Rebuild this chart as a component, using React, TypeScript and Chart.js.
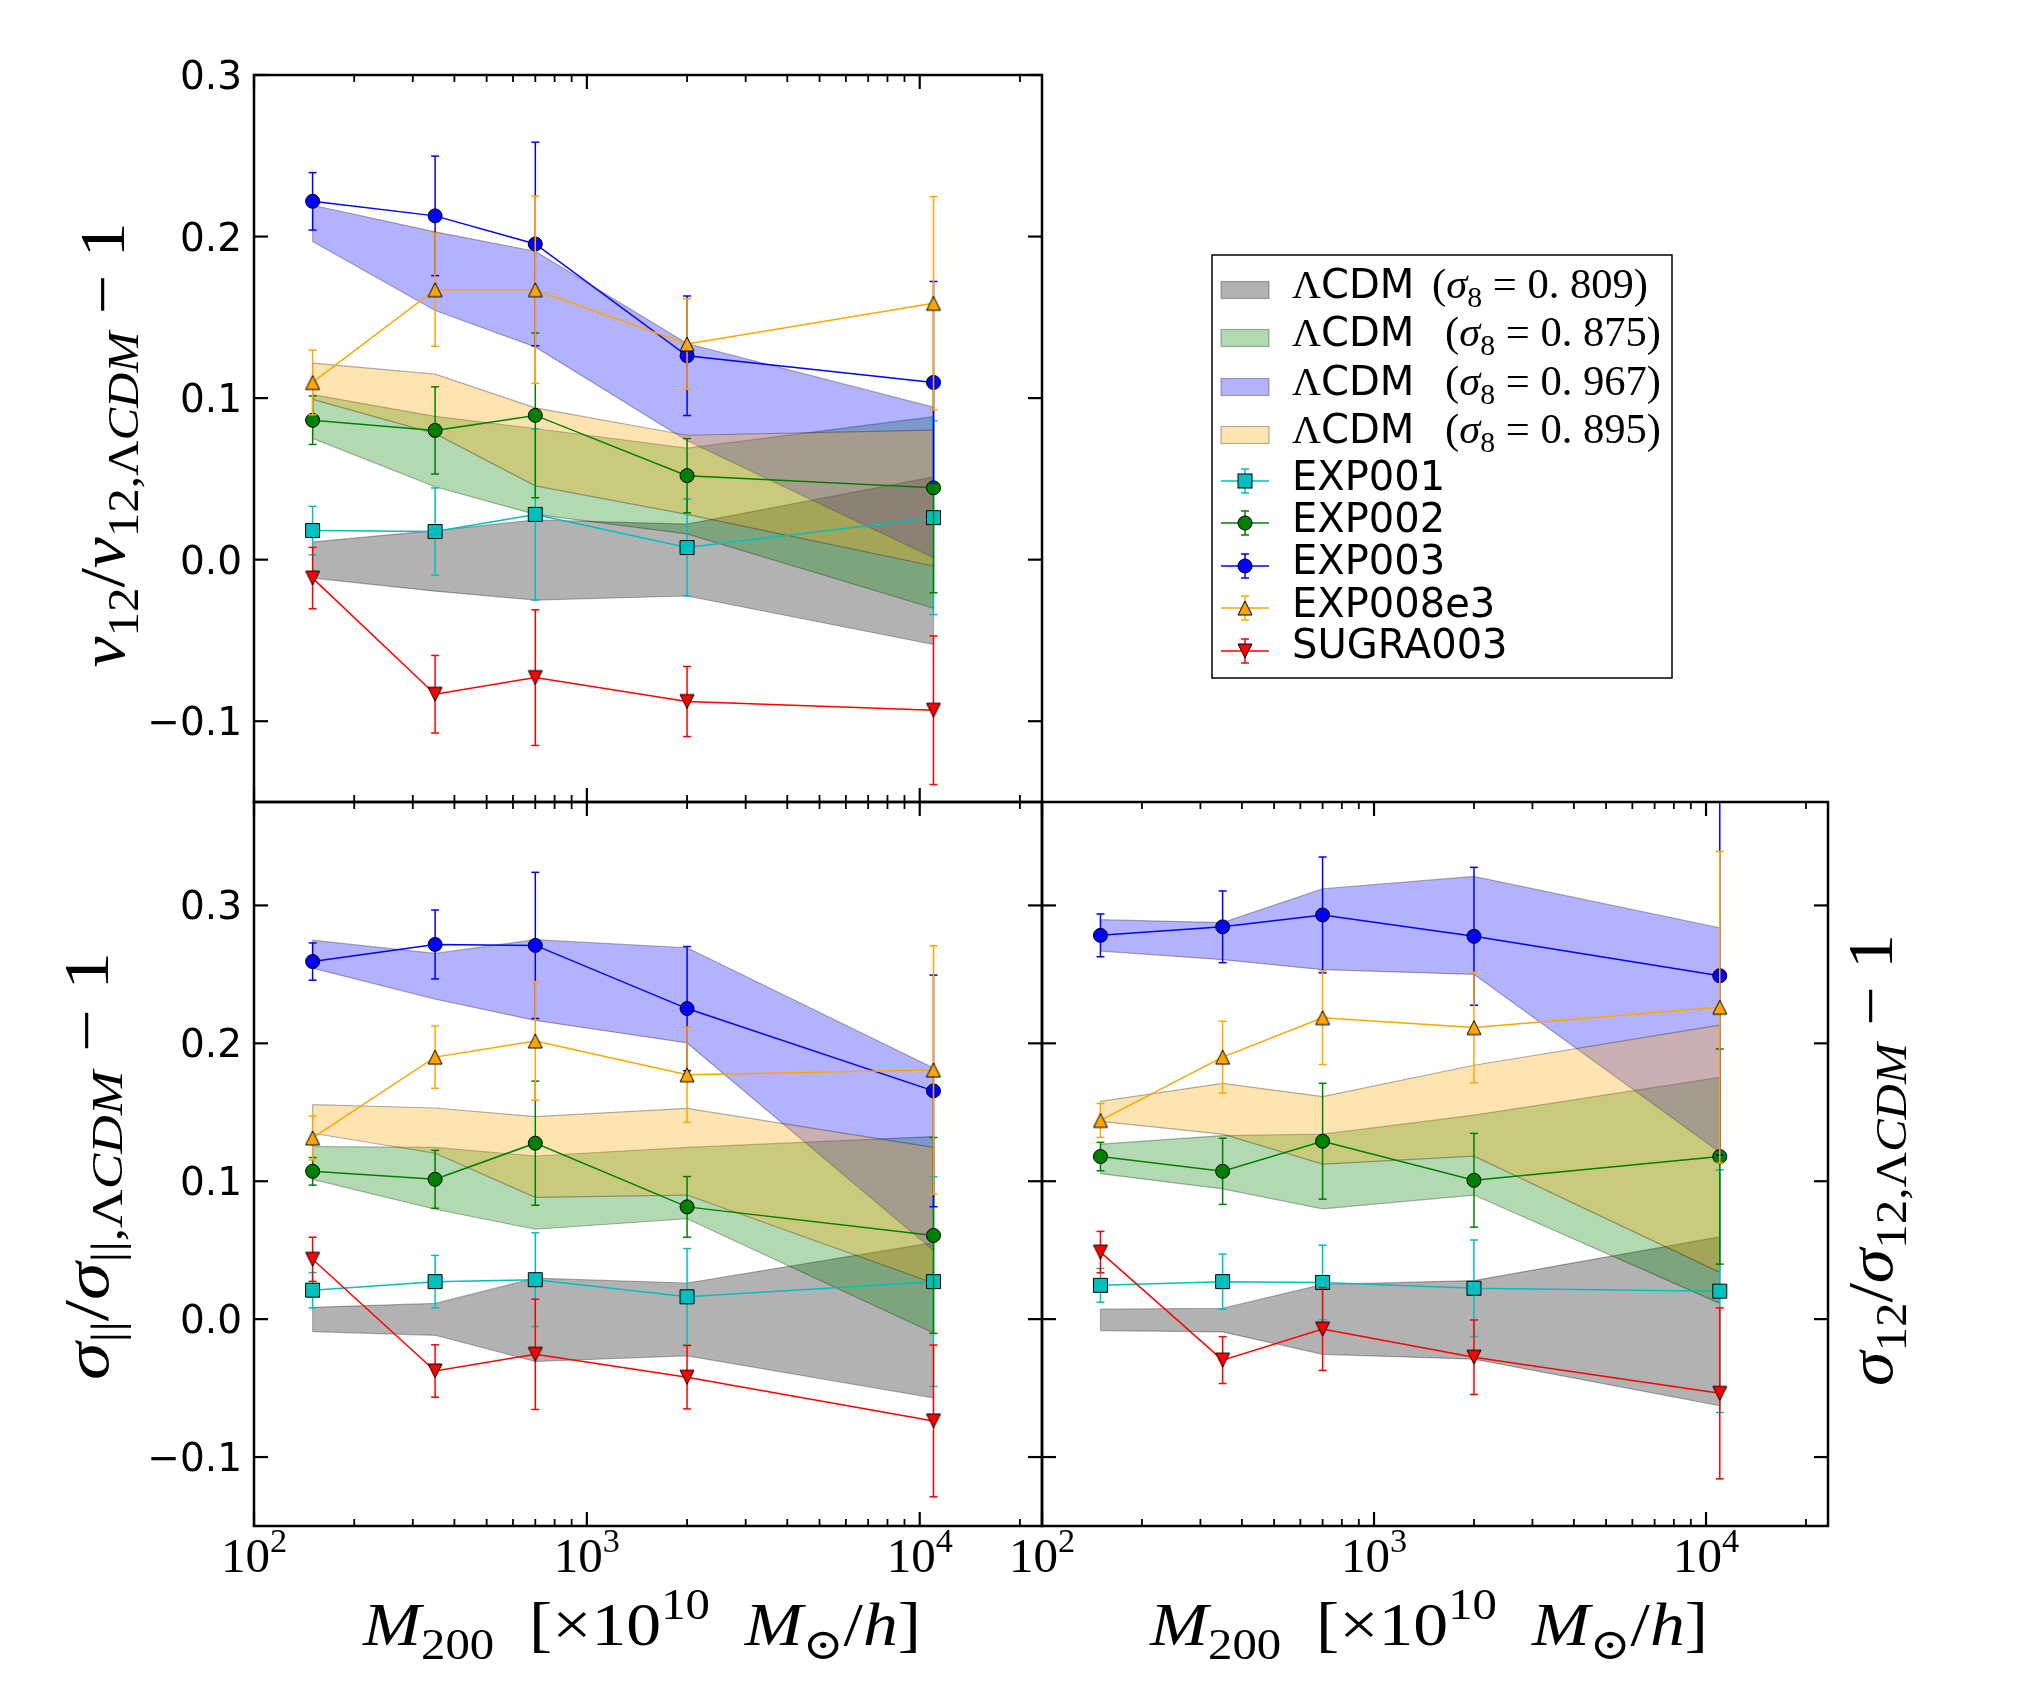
import React, { useEffect, useRef } from 'react';
import { Chart, registerables } from 'chart.js';

Chart.register(...registerables);

const W = 2028;
const H = 1698;
const SANS = "'DejaVu Sans', 'Liberation Sans', sans-serif";
const SERIF = "'Liberation Serif', 'DejaVu Serif', serif";

// ---------------- data ----------------
const massBins = [150, 350, 700, 2000, 11000];
const xMin = 100;
const xMax = 23300;
const xMajorTicks = [100, 1000, 10000];
const xMajorExponents = ['2', '3', '4'];
const yTicks = [-0.1, 0.0, 0.1, 0.2, 0.3];
const yTickLabels = ['\u22120.1', '0.0', '0.1', '0.2', '0.3'];

const seriesNames = ['EXP001', 'EXP002', 'EXP003', 'EXP008e3', 'SUGRA003'];
const seriesColors = ['#00bfbf', '#008000', '#0000ff', '#ffa500', '#ff0000'];
const seriesMarkers = ['rect', 'circle', 'circle', 'triUp', 'triDown'];
const bandSigma8 = ['0. 809', '0. 875', '0. 967', '0. 895'];
const bandFills = ['rgba(0,0,0,0.3)', 'rgba(0,128,0,0.3)', 'rgba(0,0,255,0.3)', 'rgba(255,165,0,0.3)'];
const EDGE = 'rgba(0,0,0,0.3)';

// v12 panel (top-left)
const v12Lcdm809Lo = [-0.0114, -0.0195, -0.025, -0.0225, -0.0525];
const v12Lcdm809Hi = [0.011, 0.018, 0.0246, 0.022, 0.0513];
const v12Lcdm875Lo = [0.0751, 0.0451, 0.028, 0.016, -0.0301];
const v12Lcdm875Hi = [0.1022, 0.0887, 0.0812, 0.069, 0.0885];
const v12Lcdm967Lo = [0.1969, 0.1542, 0.1317, 0.0736, 0.0012];
const v12Lcdm967Hi = [0.2194, 0.2029, 0.1909, 0.1338, 0.0944];
const v12Lcdm895Lo = [0.0992, 0.078, 0.0457, 0.028, -0.0039];
const v12Lcdm895Hi = [0.1217, 0.1148, 0.094, 0.077, 0.0802];
const v12Exp001 = [0.018, 0.0174, 0.028, 0.0075, 0.026];
const v12Exp001Err = [0.015, 0.027, 0.053, 0.03, 0.06];
const v12Exp002 = [0.0863, 0.08, 0.0893, 0.052, 0.0445];
const v12Exp002Err = [0.015, 0.027, 0.051, 0.023, 0.065];
const v12Exp003 = [0.2218, 0.2128, 0.1954, 0.1262, 0.1097];
const v12Exp003Err = [0.0178, 0.037, 0.063, 0.037, 0.0625];
const v12Exp008e3 = [0.1097, 0.1671, 0.1671, 0.1335, 0.1587];
const v12Exp008e3Err = [0.02, 0.035, 0.058, 0.028, 0.066];
const v12Sugra003 = [-0.0114, -0.0833, -0.073, -0.0878, -0.0932];
const v12Sugra003Err = [0.019, 0.024, 0.042, 0.0217, 0.046];

// sigma_parallel panel (bottom-left)
const spLcdm809Lo = [-0.009, -0.0117, -0.0307, -0.0266, -0.0572];
const spLcdm809Hi = [0.0086, 0.0114, 0.0297, 0.0262, 0.0555];
const spLcdm875Lo = [0.1014, 0.0797, 0.0652, 0.0728, -0.01];
const spLcdm875Hi = [0.1252, 0.1245, 0.1183, 0.1245, 0.1324];
const spLcdm967Lo = [0.2545, 0.2321, 0.2166, 0.2003, 0.0497];
const spLcdm967Hi = [0.2748, 0.2652, 0.2752, 0.2693, 0.1821];
const spLcdm895Lo = [0.1348, 0.1203, 0.0883, 0.09, 0.0262];
const spLcdm895Hi = [0.1555, 0.1531, 0.1469, 0.1528, 0.1245];
const spExp001 = [0.021, 0.0272, 0.0286, 0.0162, 0.0272];
const spExp001Err = [0.0128, 0.019, 0.034, 0.035, 0.076];
const spExp002 = [0.1072, 0.1014, 0.1276, 0.0814, 0.0607];
const spExp002Err = [0.01, 0.021, 0.045, 0.022, 0.071];
const spExp003 = [0.2593, 0.2717, 0.271, 0.2252, 0.1655];
const spExp003Err = [0.0135, 0.025, 0.053, 0.045, 0.084];
const spExp008e3 = [0.1314, 0.19, 0.2017, 0.1772, 0.1807];
const spExp008e3Err = [0.016, 0.0226, 0.043, 0.0345, 0.09];
const spSugra003 = [0.0434, -0.0376, -0.0255, -0.0421, -0.0738];
const spSugra003Err = [0.016, 0.019, 0.04, 0.023, 0.055];

// sigma_12 panel (bottom-right)
const s12Lcdm809Lo = [-0.0083, -0.0093, -0.0255, -0.029, -0.0628];
const s12Lcdm809Hi = [0.0072, 0.0079, 0.0252, 0.028, 0.0597];
const s12Lcdm875Lo = [0.1055, 0.0945, 0.08, 0.09, 0.0114];
const s12Lcdm875Hi = [0.1269, 0.1331, 0.1341, 0.148, 0.1753];
const s12Lcdm967Lo = [0.2669, 0.2607, 0.2534, 0.25, 0.1211];
const s12Lcdm967Hi = [0.2897, 0.2876, 0.3121, 0.321, 0.2838];
const s12Lcdm895Lo = [0.1434, 0.1341, 0.1124, 0.1182, 0.0339];
const s12Lcdm895Hi = [0.1579, 0.171, 0.1614, 0.1841, 0.2132];
const s12Exp001 = [0.0245, 0.0272, 0.0266, 0.0224, 0.0203];
const s12Exp001Err = [0.0122, 0.02, 0.027, 0.035, 0.088];
const s12Exp002 = [0.1179, 0.1072, 0.129, 0.1007, 0.1179];
const s12Exp002Err = [0.0103, 0.024, 0.042, 0.034, 0.078];
const s12Exp003 = [0.2783, 0.2845, 0.2931, 0.2776, 0.249];
const s12Exp003Err = [0.0155, 0.026, 0.042, 0.05, 0.13];
const s12Exp008e3 = [0.1441, 0.19, 0.2186, 0.2114, 0.2262];
const s12Exp008e3Err = [0.0123, 0.026, 0.034, 0.04, 0.113];
const s12Sugra003 = [0.0486, -0.0297, -0.0072, -0.0276, -0.0538];
const s12Sugra003Err = [0.015, 0.017, 0.03, 0.027, 0.062];

// ---------------- helpers ----------------
type Seg = { t: string; it?: boolean; s?: number; dy?: number; sans?: boolean };

function segFont(sg: Seg, base: number) {
  return `${sg.it ? 'italic ' : ''}${(base * (sg.s ?? 1)).toFixed(1)}px ${sg.sans ? SANS : SERIF}`;
}

function drawRich(
  ctx: CanvasRenderingContext2D,
  segs: Seg[],
  x: number,
  y: number,
  base: number,
  opt: { align?: 'left' | 'center'; rot?: number; width?: number } = {}
) {
  ctx.save();
  const ws = segs.map((sg) => {
    ctx.font = segFont(sg, base);
    return ctx.measureText(sg.t).width;
  });
  const total = ws.reduce((a, b) => a + b, 0);
  ctx.translate(x, y);
  if (opt.rot) ctx.rotate(opt.rot);
  if (opt.width) ctx.scale(opt.width / total, 1);
  let cx = opt.align === 'center' ? -total / 2 : 0;
  ctx.fillStyle = '#000';
  ctx.textAlign = 'left';
  ctx.textBaseline = 'alphabetic';
  segs.forEach((sg, i) => {
    ctx.font = segFont(sg, base);
    ctx.fillText(sg.t, cx, (sg.dy ?? 0) * base);
    cx += ws[i];
  });
  ctx.restore();
}

function makeTri(color: string, down: boolean) {
  const c = document.createElement('canvas');
  c.width = 20;
  c.height = 20;
  const g = c.getContext('2d')!;
  g.beginPath();
  if (down) {
    g.moveTo(10, 17);
    g.lineTo(3, 3);
    g.lineTo(17, 3);
  } else {
    g.moveTo(10, 3);
    g.lineTo(3, 17);
    g.lineTo(17, 17);
  }
  g.closePath();
  g.fillStyle = color;
  g.fill();
  g.lineWidth = 1;
  g.strokeStyle = '#000';
  g.stroke();
  return c;
}

function line(ctx: CanvasRenderingContext2D, x1: number, y1: number, x2: number, y2: number) {
  ctx.beginPath();
  ctx.moveTo(x1, y1);
  ctx.lineTo(x2, y2);
  ctx.stroke();
}

const SUB = 0.22;
const SUP = -0.42;

const xLabelSegs: Seg[] = [
  { t: 'M', it: true },
  { t: '200', s: 0.7, dy: SUB },
  { t: '  [' },
  { t: '\u00d7' },
  { t: '10' },
  { t: '10', s: 0.7, dy: SUP },
  { t: '  ' },
  { t: 'M', it: true },
  { t: '\u2299', s: 0.7, dy: SUB },
  { t: '/' },
  { t: 'h', it: true },
  { t: ']' },
];

function yLabelSegs(sym: string, sub: string): Seg[] {
  return [
    { t: sym, it: true },
    { t: sub, s: 0.7, dy: SUB },
    { t: '/' },
    { t: sym, it: true },
    { t: sub + ',', s: 0.7, dy: SUB },
    { t: '\u039b', s: 0.7, dy: SUB },
    { t: 'CDM', it: true, s: 0.7, dy: SUB },
    { t: ' \u2212 1' },
  ];
}

interface Panel {
  key: 'v12' | 'spar' | 's12';
  area: [number, number, number, number];
  yMin: number;
  yMax: number;
  bandsLo: number[][];
  bandsHi: number[][];
  vals: number[][];
  errs: number[][];
  yTickText: boolean;
  xTickText: boolean;
}

const panels: Panel[] = [
  {
    key: 'v12',
    area: [254, 75, 1042, 802],
    yMin: -0.15,
    yMax: 0.3,
    bandsLo: [v12Lcdm809Lo, v12Lcdm875Lo, v12Lcdm967Lo, v12Lcdm895Lo],
    bandsHi: [v12Lcdm809Hi, v12Lcdm875Hi, v12Lcdm967Hi, v12Lcdm895Hi],
    vals: [v12Exp001, v12Exp002, v12Exp003, v12Exp008e3, v12Sugra003],
    errs: [v12Exp001Err, v12Exp002Err, v12Exp003Err, v12Exp008e3Err, v12Sugra003Err],
    yTickText: true,
    xTickText: false,
  },
  {
    key: 'spar',
    area: [254, 802, 1042, 1526],
    yMin: -0.15,
    yMax: 0.375,
    bandsLo: [spLcdm809Lo, spLcdm875Lo, spLcdm967Lo, spLcdm895Lo],
    bandsHi: [spLcdm809Hi, spLcdm875Hi, spLcdm967Hi, spLcdm895Hi],
    vals: [spExp001, spExp002, spExp003, spExp008e3, spSugra003],
    errs: [spExp001Err, spExp002Err, spExp003Err, spExp008e3Err, spSugra003Err],
    yTickText: true,
    xTickText: true,
  },
  {
    key: 's12',
    area: [1042, 802, 1828, 1526],
    yMin: -0.15,
    yMax: 0.375,
    bandsLo: [s12Lcdm809Lo, s12Lcdm875Lo, s12Lcdm967Lo, s12Lcdm895Lo],
    bandsHi: [s12Lcdm809Hi, s12Lcdm875Hi, s12Lcdm967Hi, s12Lcdm895Hi],
    vals: [s12Exp001, s12Exp002, s12Exp003, s12Exp008e3, s12Sugra003],
    errs: [s12Exp001Err, s12Exp002Err, s12Exp003Err, s12Exp008e3Err, s12Sugra003Err],
    yTickText: false,
    xTickText: true,
  },
];

type Tris = { up: HTMLCanvasElement; down: HTMLCanvasElement };

function drawMarker(ctx: CanvasRenderingContext2D, kind: string, color: string, x: number, y: number, tris: Tris) {
  ctx.save();
  ctx.fillStyle = color;
  ctx.strokeStyle = '#000';
  ctx.lineWidth = 1;
  if (kind === 'rect') {
    ctx.fillRect(x - 7, y - 7, 14, 14);
    ctx.strokeRect(x - 7, y - 7, 14, 14);
  } else if (kind === 'circle') {
    ctx.beginPath();
    ctx.arc(x, y, 7, 0, Math.PI * 2);
    ctx.fill();
    ctx.stroke();
  } else {
    const img = kind === 'triUp' ? tris.up : tris.down;
    ctx.drawImage(img, x - 10, y - 10);
  }
  ctx.restore();
}

function drawLegend(ctx: CanvasRenderingContext2D, tris: Tris) {
  ctx.save();
  ctx.fillStyle = '#fff';
  ctx.fillRect(1212, 255, 460, 423);
  ctx.strokeStyle = '#000';
  ctx.lineWidth = 1.5;
  ctx.strokeRect(1212, 255, 460, 423);
  const bandMid = [290, 338, 387, 435];
  const bandBase = [298, 346, 395, 443];
  const mathX = [1432, 1445, 1445, 1445];
  bandFills.forEach((f, i) => {
    ctx.fillStyle = f;
    ctx.fillRect(1221, bandMid[i] - 8.5, 48, 17);
    ctx.strokeStyle = EDGE;
    ctx.lineWidth = 1.2;
    ctx.strokeRect(1221, bandMid[i] - 8.5, 48, 17);
    drawRich(ctx, [{ t: '\u039b' }, { t: 'CDM', sans: true }], 1292, bandBase[i], 40);
    drawRich(
      ctx,
      [
        { t: '(' },
        { t: '\u03c3', it: true },
        { t: '8', s: 0.7, dy: SUB },
        { t: ' = ' },
        { t: bandSigma8[i] },
        { t: ')' },
      ],
      mathX[i],
      bandBase[i],
      42,
      { width: 216 }
    );
  });
  const serMid = [481, 523, 566, 608, 651];
  const serBase = [490, 532, 574, 617, 658];
  seriesNames.forEach((name, i) => {
    const y = serMid[i];
    ctx.strokeStyle = seriesColors[i];
    ctx.lineWidth = 1.5;
    line(ctx, 1221, y, 1269, y);
    line(ctx, 1245, y - 12, 1245, y + 12);
    line(ctx, 1241, y - 12, 1249, y - 12);
    line(ctx, 1241, y + 12, 1249, y + 12);
    drawMarker(ctx, seriesMarkers[i], seriesColors[i], 1245, y, tris);
    ctx.fillStyle = '#000';
    ctx.font = `40px ${SANS}`;
    ctx.textAlign = 'left';
    ctx.textBaseline = 'alphabetic';
    ctx.fillText(name, 1292, serBase[i]);
  });
  ctx.restore();
}

function panelPlugin(p: Panel, tris: Tris) {
  return {
    id: 'panel_' + p.key,
    beforeDatasetDraw(chart: any, args: any) {
      const ds: any = chart.data.datasets[args.index];
      if (!ds.errs) return;
      const ctx: CanvasRenderingContext2D = chart.ctx;
      const a = chart.chartArea;
      const xs = chart.scales.x;
      const ys = chart.scales.y;
      ctx.save();
      ctx.beginPath();
      ctx.rect(a.left, a.top, a.right - a.left, a.bottom - a.top);
      ctx.clip();
      ctx.strokeStyle = ds.borderColor;
      ctx.lineWidth = 1.5;
      ds.data.forEach((pt: any, j: number) => {
        const e = ds.errs[j];
        const px = xs.getPixelForValue(pt.x);
        const y1 = ys.getPixelForValue(pt.y + e);
        const y2 = ys.getPixelForValue(pt.y - e);
        line(ctx, px, y1, px, y2);
        line(ctx, px - 4, y1, px + 4, y1);
        line(ctx, px - 4, y2, px + 4, y2);
      });
      ctx.restore();
    },
    afterDatasetDraw(chart: any, args: any) {
      const ds: any = chart.data.datasets[args.index];
      if (!ds.bandLo) return;
      const ctx: CanvasRenderingContext2D = chart.ctx;
      const xs = chart.scales.x;
      const ys = chart.scales.y;
      ctx.save();
      ctx.strokeStyle = EDGE;
      ctx.lineWidth = 1.2;
      [0, massBins.length - 1].forEach((j) => {
        const px = xs.getPixelForValue(massBins[j]);
        line(ctx, px, ys.getPixelForValue(ds.bandLo[j]), px, ys.getPixelForValue(ds.data[j].y));
      });
      ctx.restore();
    },
    afterDraw(chart: any) {
      const ctx: CanvasRenderingContext2D = chart.ctx;
      const a = chart.chartArea;
      const xs = chart.scales.x;
      const ys = chart.scales.y;
      ctx.save();
      ctx.strokeStyle = '#000';
      // major y ticks
      ctx.lineWidth = 2.2;
      yTicks.forEach((v) => {
        if (v < p.yMin || v > p.yMax) return;
        const py = ys.getPixelForValue(v);
        line(ctx, a.left, py, a.left + 14, py);
        line(ctx, a.right - 14, py, a.right, py);
      });
      // major x ticks
      xMajorTicks.forEach((v) => {
        const px = xs.getPixelForValue(v);
        line(ctx, px, a.top, px, a.top + 14);
        line(ctx, px, a.bottom - 14, px, a.bottom);
      });
      // minor x ticks
      ctx.lineWidth = 1.8;
      [100, 1000, 10000].forEach((dec) => {
        for (let k = 2; k <= 9; k++) {
          const v = k * dec;
          if (v >= xMax) continue;
          const px = xs.getPixelForValue(v);
          line(ctx, px, a.top, px, a.top + 7);
          line(ctx, px, a.bottom - 7, px, a.bottom);
        }
      });
      // frame
      ctx.lineWidth = 2.5;
      ctx.strokeRect(a.left, a.top, a.right - a.left, a.bottom - a.top);
      ctx.restore();

      // y tick labels
      if (p.yTickText) {
        ctx.save();
        ctx.fillStyle = '#000';
        ctx.font = `39px ${SANS}`;
        ctx.textAlign = 'right';
        ctx.textBaseline = 'alphabetic';
        yTicks.forEach((v, i) => {
          if (v < p.yMin || v > p.yMax) return;
          const py = ys.getPixelForValue(v);
          ctx.fillText(yTickLabels[i], a.left - 12, py + 14);
        });
        ctx.restore();
      }
      // x tick labels
      if (p.xTickText) {
        xMajorTicks.forEach((v, i) => {
          const px = xs.getPixelForValue(v);
          drawRich(ctx, [{ t: '10' }, { t: xMajorExponents[i], s: 0.7, dy: -0.4 }], px, 1572, 49, { align: 'center' });
        });
        drawRich(ctx, xLabelSegs, (a.left + a.right) / 2 - 6, 1645, 62, { align: 'center', width: 558 });
      }
      if (p.key === 'v12') {
        drawRich(ctx, yLabelSegs('v', '12'), 124, 445, 64, { align: 'center', rot: -Math.PI / 2, width: 445 });
        drawLegend(ctx, tris);
      } else if (p.key === 'spar') {
        drawRich(ctx, yLabelSegs('\u03c3', '||'), 108, 1166, 64, { align: 'center', rot: -Math.PI / 2, width: 428 });
      } else {
        drawRich(ctx, yLabelSegs('\u03c3', '12'), 1892, 1160, 64, { align: 'center', rot: -Math.PI / 2, width: 452 });
      }
    },
  };
}

function buildConfig(p: Panel, tris: Tris): any {
  const datasets: any[] = [];
  p.bandsLo.forEach((lo, i) => {
    const hi = p.bandsHi[i];
    datasets.push({
      label: 'lo' + i,
      data: massBins.map((x, j) => ({ x, y: lo[j] })),
      borderColor: EDGE,
      borderWidth: 1.2,
      pointRadius: 0,
      fill: false,
      order: 100 - i,
    });
    datasets.push({
      label: 'hi' + i,
      data: massBins.map((x, j) => ({ x, y: hi[j] })),
      borderColor: EDGE,
      borderWidth: 1.2,
      pointRadius: 0,
      fill: '-1',
      backgroundColor: bandFills[i],
      order: 100 - i,
      bandLo: lo,
    });
  });
  p.vals.forEach((v, i) => {
    const m = seriesMarkers[i];
    datasets.push({
      label: seriesNames[i],
      data: massBins.map((x, j) => ({ x, y: v[j] })),
      errs: p.errs[i],
      borderColor: seriesColors[i],
      borderWidth: 1.5,
      fill: false,
      pointStyle: m === 'triUp' ? tris.up : m === 'triDown' ? tris.down : m,
      pointRadius: m === 'rect' ? 9.9 : 7,
      pointBackgroundColor: seriesColors[i],
      pointBorderColor: '#000',
      pointBorderWidth: 1,
      order: 10 - i,
    });
  });
  return {
    type: 'line',
    data: { datasets },
    options: {
      responsive: false,
      animation: false,
      devicePixelRatio: 1,
      events: [],
      layout: {
        padding: { left: p.area[0], top: p.area[1], right: W - p.area[2], bottom: H - p.area[3] },
      },
      scales: {
        x: { type: 'logarithmic', min: xMin, max: xMax, display: false },
        y: { type: 'linear', min: p.yMin, max: p.yMax, display: false },
      },
      plugins: { legend: { display: false }, tooltip: { enabled: false } },
    },
    plugins: [panelPlugin(p, tris)],
  };
}

export default function App() {
  const r0 = useRef<HTMLCanvasElement>(null);
  const r1 = useRef<HTMLCanvasElement>(null);
  const r2 = useRef<HTMLCanvasElement>(null);
  useEffect(() => {
    const tris: Tris = { up: makeTri('#ffa500', false), down: makeTri('#ff0000', true) };
    const refs = [r0, r1, r2];
    const charts = panels.map((p, i) => new Chart(refs[i].current as HTMLCanvasElement, buildConfig(p, tris)));
    return () => charts.forEach((c) => c.destroy());
  }, []);
  const cs: React.CSSProperties = { position: 'absolute', left: 0, top: 0, width: W, height: H };
  return (
    <div style={{ position: 'fixed', left: 0, top: 0, width: W, height: H, background: '#fff', overflow: 'hidden' }}>
      <canvas ref={r0} width={W} height={H} style={cs} />
      <canvas ref={r1} width={W} height={H} style={cs} />
      <canvas ref={r2} width={W} height={H} style={cs} />
    </div>
  );
}
